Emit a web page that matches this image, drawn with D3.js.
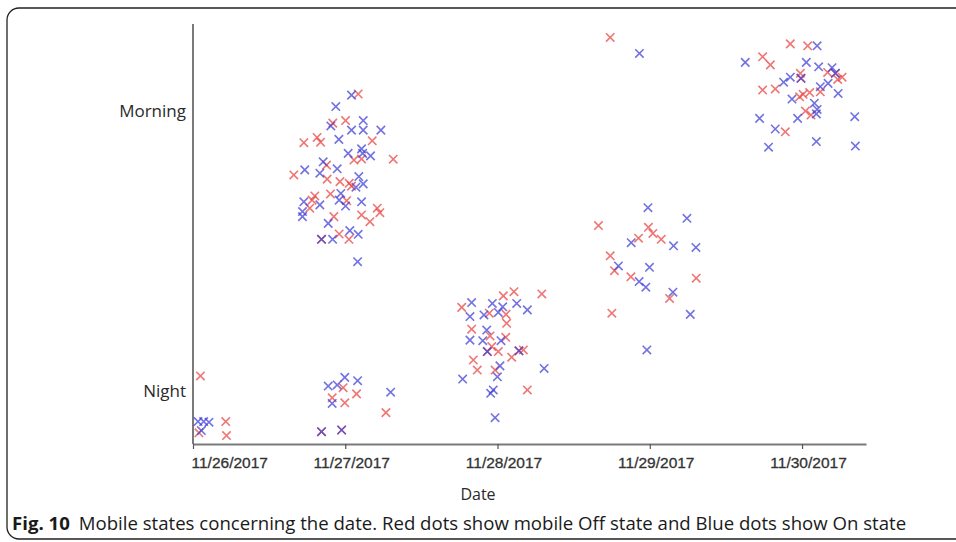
<!DOCTYPE html>
<html>
<head>
<meta charset="utf-8">
<script src="https://cdn.jsdelivr.net/npm/d3@7"></script>
<style>
  html, body { margin: 0; padding: 0; background: #fff; }
  svg { display: block; }
</style>
</head>
<body>
<svg id="chart" width="956" height="542"></svg>
<script>
// Days elapsed since 11/26/2017 00:00 and a time-of-day level (Night = 0, Morning = 1).
const offState = [
  [0.049, 0.053], [0.215, -0.11], [0.039, -0.15], [0.220, -0.16],
  [0.986, 0.011], [1.074, -0.011], [0.914, -0.025], [0.997, -0.043], [1.267, -0.078], [0.844, -0.146], [0.976, -0.14],
  [1.085, 1.06], [0.918, 0.956], [1.002, 0.965], [0.728, 0.886], [0.815, 0.905], [0.838, 0.888], [1.177, 0.893],
  [1.057, 0.824], [1.107, 0.828], [1.315, 0.827], [0.877, 0.806], [0.662, 0.771], [0.881, 0.756], [0.965, 0.747],
  [1.026, 0.741], [1.041, 0.731], [0.903, 0.703], [0.800, 0.696], [0.782, 0.681], [1.009, 0.679], [0.767, 0.652],
  [1.210, 0.652], [1.227, 0.636], [1.107, 0.628], [1.162, 0.604], [0.925, 0.622], [0.960, 0.56], [1.024, 0.541], [0.844, 0.541],
  [2.038, 0.339], [2.108, 0.354], [2.291, 0.346], [1.765, 0.298], [1.946, 0.277], [2.056, 0.273], [2.060, 0.241],
  [1.830, 0.220], [1.951, 0.196], [2.054, 0.191], [1.962, 0.158], [1.933, 0.14], [2.005, 0.14], [2.141, 0.143],
  [2.170, 0.146], [2.093, 0.12], [1.841, 0.11], [1.867, 0.074], [1.984, 0.074], [2.196, 0.003],
  [2.740, 1.262], [2.663, 0.59], [2.991, 0.584], [3.020, 0.562], [3.075, 0.541], [2.926, 0.545], [2.740, 0.482],
  [2.768, 0.429], [2.876, 0.407], [3.305, 0.402], [3.130, 0.33], [2.751, 0.277],
  [3.923, 1.239], [4.037, 1.232], [3.741, 1.193], [3.792, 1.164], [4.168, 1.137], [4.219, 1.134], [4.263, 1.12],
  [4.234, 1.112], [3.989, 1.134], [3.993, 1.116], [3.741, 1.074], [3.824, 1.078], [4.120, 1.068], [4.050, 1.065],
  [3.984, 1.05], [4.007, 1.059], [4.022, 0.999], [4.059, 0.985], [3.890, 0.925]
];

const onState = [
  [0.033, -0.11], [0.070, -0.11], [0.105, -0.112], [0.055, -0.142],
  [0.888, 0.017], [0.947, 0.021], [0.997, 0.048], [1.081, 0.036], [0.914, -0.045], [1.298, -0.005], [0.844, -0.146], [0.976, -0.14],
  [1.041, 1.056], [0.938, 1.015], [0.905, 0.946], [1.118, 0.965], [1.041, 0.931], [1.118, 0.931], [1.234, 0.931],
  [0.958, 0.898], [1.019, 0.848], [1.107, 0.864], [1.114, 0.848], [1.166, 0.839], [0.855, 0.818], [0.734, 0.789],
  [0.833, 0.777], [0.947, 0.793], [1.089, 0.765], [1.070, 0.727], [1.118, 0.739], [0.971, 0.705], [0.728, 0.675],
  [0.960, 0.681], [0.833, 0.664], [1.002, 0.66], [1.107, 0.675], [0.719, 0.64], [0.719, 0.622], [0.888, 0.598],
  [0.844, 0.541], [0.917, 0.541], [1.030, 0.572], [1.085, 0.559], [1.081, 0.461],
  [1.830, 0.315], [1.966, 0.312], [2.034, 0.30], [2.126, 0.312], [2.196, 0.289], [1.911, 0.271], [2.005, 0.28],
  [1.819, 0.265], [1.929, 0.217], [1.819, 0.181], [1.903, 0.179], [2.023, 0.179], [1.933, 0.14], [2.141, 0.143],
  [2.016, 0.089], [1.999, 0.05], [2.306, 0.08], [1.771, 0.042], [1.972, 0.003], [1.955, -0.009], [1.984, -0.096],
  [2.932, 1.205], [2.988, 0.654], [3.244, 0.616], [2.878, 0.529], [3.156, 0.518], [3.303, 0.512], [2.794, 0.446],
  [2.998, 0.441], [2.930, 0.39], [2.974, 0.37], [3.152, 0.352], [3.266, 0.273], [2.981, 0.146],
  [4.099, 1.232], [3.627, 1.173], [4.028, 1.173], [4.109, 1.157], [4.197, 1.154], [4.219, 1.134], [3.923, 1.12],
  [3.879, 1.102], [3.993, 1.116], [4.171, 1.098], [4.120, 1.086], [4.237, 1.062], [3.934, 1.042], [4.081, 1.027],
  [4.099, 1.005], [4.094, 0.989], [3.971, 0.973], [3.721, 0.973], [4.346, 0.979], [3.824, 0.935], [4.094, 0.89],
  [3.780, 0.87], [4.350, 0.874]
];

const tickDays = ["11/26/2017", "11/27/2017", "11/28/2017", "11/29/2017", "11/30/2017"];
const levelLabels = [[0, "Night"], [1, "Morning"]];
const axisTitle = "Date";
const captionBold = "Fig. 10";
const captionText = "Mobile states concerning the date. Red dots show mobile Off state and Blue dots show On state";

const parseDay = d3.timeParse("%m/%d/%Y");
const start = parseDay(tickDays[0]);
const toDate = d => new Date(start.getTime() + d * 864e5);

const svg = d3.select("#chart");

// rounded frame around figure and caption
svg.append("rect")
  .attr("x", 7).attr("y", 8)
  .attr("width", 980).attr("height", 531)
  .attr("rx", 12).attr("ry", 12)
  .attr("fill", "none").attr("stroke", "#222").attr("stroke-width", 1.3);

const x = d3.scaleTime()
  .domain([start, toDate(4.42)])
  .range([193, 866]);

const y = d3.scaleLinear()
  .domain([-0.19, 1.31])
  .range([444, 24]);

const axisColor = "#7a7a7a";

// y axis line, labels only at the two levels
svg.append("line")
  .attr("x1", x.range()[0]).attr("x2", x.range()[0])
  .attr("y1", y.range()[1]).attr("y2", y.range()[0])
  .attr("stroke", axisColor).attr("stroke-width", 2);

svg.selectAll("text.level")
  .data(levelLabels)
  .join("text")
  .attr("class", "level")
  .attr("x", x.range()[0] - 7)
  .attr("y", d => y(d[0]))
  .attr("dy", "0.35em")
  .attr("text-anchor", "end")
  .attr("font-family", "'Open Sans', sans-serif")
  .attr("font-size", 17)
  .attr("fill", "#2a2a2a")
  .text(d => d[1]);

// x axis
const xAxis = d3.axisBottom(x)
  .tickValues(tickDays.map(parseDay))
  .tickFormat(d3.timeFormat("%m/%d/%Y"))
  .tickSizeInner(5)
  .tickSizeOuter(0);

const gx = svg.append("g")
  .attr("transform", `translate(0,${y.range()[0]})`)
  .call(xAxis);

gx.select(".domain").attr("stroke", axisColor).attr("stroke-width", 2);
gx.selectAll(".tick line").attr("stroke", "#555").attr("stroke-width", 1.2);
gx.selectAll(".tick text")
  .attr("font-family", "'Liberation Sans', Arial, sans-serif")
  .attr("font-size", 15.5)
  .attr("fill", "#333")
  .attr("stroke", "#333")
  .attr("stroke-width", 0.3)
  .attr("y", 13)
  .attr("dy", "0.71em")
  .attr("dx", 6)
  .text(d => tickDays[tickDays.findIndex(t => +parseDay(t) === +d)]);
gx.select(".tick:first-of-type text").attr("text-anchor", "start").attr("dx", -2);

svg.append("text")
  .attr("x", 478).attr("y", 500)
  .attr("text-anchor", "middle")
  .attr("font-family", "'Open Sans', sans-serif")
  .attr("font-size", 16)
  .attr("fill", "#2a2a2a")
  .text(axisTitle);

// cross markers
const half = 4.2;
const crossPath = `M${-half},${-half}L${half},${half}M${-half},${half}L${half},${-half}`;

function drawSeries(data, color) {
  svg.append("g")
    .selectAll("path")
    .data(data)
    .join("path")
    .attr("transform", d => `translate(${x(toDate(d[0]))},${y(d[1])})`)
    .attr("d", crossPath)
    .attr("fill", "none")
    .attr("stroke", color)
    .attr("stroke-width", 1.6)
    .attr("stroke-opacity", 0.72);
}
drawSeries(offState, "#e8413f");
drawSeries(onState, "#3c3cd6");

// caption
const cap = svg.append("text")
  .attr("x", 12).attr("y", 530)
  .attr("font-family", "'Open Sans', sans-serif")
  .attr("font-size", 18.6)
  .attr("fill", "#1a1a1a");
cap.append("tspan").attr("font-weight", "bold").text(captionBold);
cap.append("tspan").attr("dx", 9).text(captionText);
</script>
</body>
</html>
